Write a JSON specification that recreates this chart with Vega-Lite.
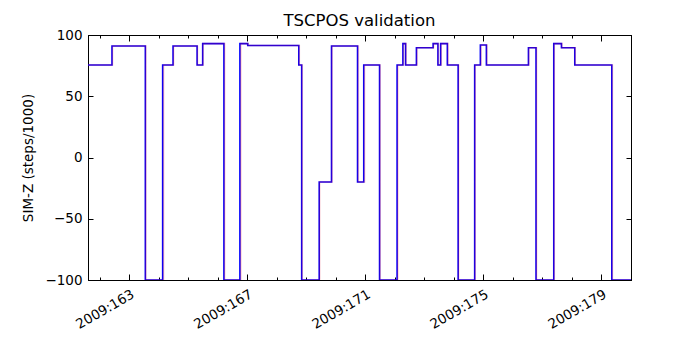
{
  "$schema": "https://vega.github.io/schema/vega-lite/v6.json",
  "autosize": "none",
  "width": 543,
  "height": 245,
  "padding": {"left": 88, "top": 35, "right": 69, "bottom": 70},
  "background": "white",
  "config": {
    "view": {"stroke": "black", "strokeWidth": 1},
    "font": "DejaVu Sans",
    "axis": {"labelFont": "DejaVu Sans", "titleFont": "DejaVu Sans", "labelFontSize": 13.5, "titleFontSize": 13.5, "titleFontWeight": "normal", "labelColor": "black", "titleColor": "black", "domainColor": "black", "tickColor": "black", "grid": false}
  },
  "title": {"text": "TSCPOS validation", "font": "DejaVu Sans", "fontSize": 16.5, "fontWeight": "normal", "color": "black", "offset": -1},
  "data": {"values": [
    {"s": "blue", "day": 161.6, "v": 75.5},
    {"s": "blue", "day": 162.413, "v": 91},
    {"s": "blue", "day": 163.543, "v": -100},
    {"s": "blue", "day": 164.13, "v": 75.5},
    {"s": "blue", "day": 164.482, "v": 91},
    {"s": "blue", "day": 165.297, "v": 75.5},
    {"s": "blue", "day": 165.486, "v": 93},
    {"s": "blue", "day": 166.206, "v": -100},
    {"s": "blue", "day": 166.748, "v": 93},
    {"s": "blue", "day": 167.013, "v": 91.4},
    {"s": "blue", "day": 168.743, "v": 75.5},
    {"s": "blue", "day": 168.841, "v": -100},
    {"s": "blue", "day": 169.435, "v": -20},
    {"s": "blue", "day": 169.852, "v": 91},
    {"s": "blue", "day": 170.734, "v": -20},
    {"s": "blue", "day": 170.944, "v": 75.5},
    {"s": "blue", "day": 171.48, "v": -100},
    {"s": "blue", "day": 172.074, "v": 75.5},
    {"s": "blue", "day": 172.271, "v": 93},
    {"s": "blue", "day": 172.362, "v": 75.5},
    {"s": "blue", "day": 172.729, "v": 89.6},
    {"s": "blue", "day": 173.295, "v": 93},
    {"s": "blue", "day": 173.458, "v": 75.5},
    {"s": "blue", "day": 173.55, "v": 93},
    {"s": "blue", "day": 173.777, "v": 75.5},
    {"s": "blue", "day": 174.143, "v": -100},
    {"s": "blue", "day": 174.703, "v": 75.5},
    {"s": "blue", "day": 174.896, "v": 91.8},
    {"s": "blue", "day": 175.1, "v": 75.5},
    {"s": "blue", "day": 176.525, "v": 89.6},
    {"s": "blue", "day": 176.782, "v": -100},
    {"s": "blue", "day": 177.383, "v": 93},
    {"s": "blue", "day": 177.644, "v": 89.6},
    {"s": "blue", "day": 178.095, "v": 75.5},
    {"s": "blue", "day": 179.35, "v": -100},
    {"s": "blue", "day": 180.0, "v": -100},
    {"s": "red", "day": 161.6, "v": 75.5},
    {"s": "red", "day": 162.43, "v": 91},
    {"s": "red", "day": 163.56, "v": -100},
    {"s": "red", "day": 164.16, "v": 75.5},
    {"s": "red", "day": 164.5, "v": 91},
    {"s": "red", "day": 165.31, "v": 75.5},
    {"s": "red", "day": 165.5, "v": 93},
    {"s": "red", "day": 166.23, "v": -100},
    {"s": "red", "day": 166.78, "v": 93},
    {"s": "red", "day": 167.03, "v": 91.4},
    {"s": "red", "day": 168.76, "v": 75.5},
    {"s": "red", "day": 168.86, "v": -100},
    {"s": "red", "day": 169.45, "v": -20},
    {"s": "red", "day": 169.87, "v": 91},
    {"s": "red", "day": 170.76, "v": -20},
    {"s": "red", "day": 170.97, "v": 75.5},
    {"s": "red", "day": 171.5, "v": -100},
    {"s": "red", "day": 172.1, "v": 75.5},
    {"s": "red", "day": 172.29, "v": 93},
    {"s": "red", "day": 172.38, "v": 75.5},
    {"s": "red", "day": 172.75, "v": 89.6},
    {"s": "red", "day": 173.31, "v": 93},
    {"s": "red", "day": 173.47, "v": 75.5},
    {"s": "red", "day": 173.57, "v": 93},
    {"s": "red", "day": 173.8, "v": 75.5},
    {"s": "red", "day": 174.16, "v": -100},
    {"s": "red", "day": 174.72, "v": 75.5},
    {"s": "red", "day": 174.92, "v": 91.8},
    {"s": "red", "day": 175.12, "v": 75.5},
    {"s": "red", "day": 176.54, "v": 89.6},
    {"s": "red", "day": 176.8, "v": -100},
    {"s": "red", "day": 177.4, "v": 93},
    {"s": "red", "day": 177.66, "v": 89.6},
    {"s": "red", "day": 178.11, "v": 75.5},
    {"s": "red", "day": 179.37, "v": -100},
    {"s": "red", "day": 180.0, "v": -100}
  ]},
  "layer": [
    {
      "transform": [{"filter": "datum.s == 'blue'"}],
      "mark": {"type": "line", "interpolate": "step-after", "color": "#0000ff", "strokeWidth": 1.6, "clip": true},
      "encoding": {
        "x": {"field": "day", "type": "quantitative", "scale": {"domain": [161.6, 180.0], "nice": false, "zero": false},
          "axis": {"orient": "bottom", "title": null, "values": [162,163,164,165,166,167,168,169,170,171,172,173,174,175,176,177,178,179,180],
            "labelExpr": "(datum.value - 163) % 4 == 0 ? '2009:' + datum.value : ''",
            "labelAngle": -30, "labelAlign": "right", "labelBaseline": "top", "labelPadding": 13,
            "tickSize": {"condition": {"test": "(datum.value - 163) % 4 == 0", "value": -6}, "value": -3},
            "domain": true, "labelOverlap": false, "labelBound": false, "labelFlush": false}},
        "y": {"field": "v", "type": "quantitative", "scale": {"domain": [-100, 100], "nice": false},
          "axis": {"orient": "left", "title": "SIM-Z (steps/1000)", "values": [-100, -50, 0, 50, 100], "tickSize": -5, "labelPadding": 11, "titlePadding": 9}}
      }
    },
    {
      "transform": [{"filter": "datum.s == 'red'"}],
      "mark": {"type": "line", "interpolate": "step-after", "color": "#ff0000", "strokeWidth": 1.6, "opacity": 0.2, "clip": true},
      "encoding": {
        "x": {"field": "day", "type": "quantitative",
          "axis": {"orient": "top", "title": null, "labels": false, "values": [162,163,164,165,166,167,168,169,170,171,172,173,174,175,176,177,178,179,180],
            "tickSize": {"condition": {"test": "(datum.value - 163) % 4 == 0", "value": -6}, "value": -3}}},
        "y": {"field": "v", "type": "quantitative",
          "axis": {"orient": "right", "title": null, "labels": false, "values": [-100, -50, 0, 50, 100], "tickSize": -5}}
      }
    }
  ],
  "resolve": {"axis": {"x": "independent", "y": "independent"}}
}
